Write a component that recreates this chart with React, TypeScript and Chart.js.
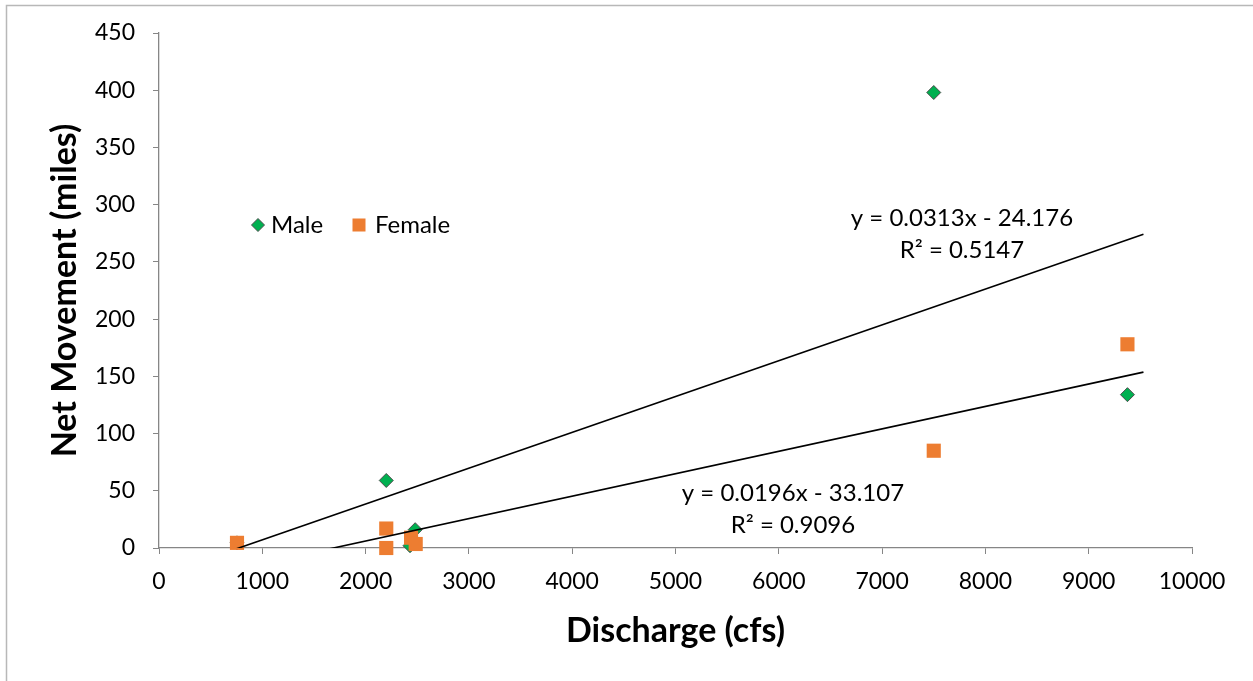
import React, { useEffect, useRef } from "react";
import { Chart, registerables } from "chart.js";

Chart.register(...registerables);

// ---- Data ----
const maleX = [755, 2200, 2430, 2480, 7500, 9375];
const maleY = [4.5, 59, 2, 16, 398, 134];
const femaleX = [755, 2200, 2200, 2440, 2485, 7500, 9375];
const femaleY = [4.5, 17, 0, 9, 3.5, 85, 178];

const maleSlope = 0.0313;
const maleIntercept = -24.176;
const maleR2 = 0.5147;
const femaleSlope = 0.0196;
const femaleIntercept = -33.107;
const femaleR2 = 0.9096;
const trendStartX = 750;
const trendEndX = 9530;

const xTicksMin = 0;
const xTicksMax = 10000;
const xStep = 1000;
const yTicksMin = 0;
const yTicksMax = 450;
const yStep = 50;

const FONT = "Lato, 'Open Sans', sans-serif";

const pts = (xs: number[], ys: number[]) => xs.map((x, i) => ({ x, y: ys[i] }));
const trend = (m: number, b: number) => [
  { x: trendStartX, y: m * trendStartX + b },
  { x: trendEndX, y: m * trendEndX + b },
];

const fmt = (m: number, b: number) =>
  `y = ${m.toFixed(4)}x ${b < 0 ? "-" : "+"} ${Math.abs(b).toFixed(3)}`;

const decorPlugin = {
  id: "decor",
  beforeDraw(chart: any) {
    const ctx = chart.ctx;
    ctx.save();
    ctx.fillStyle = "#ffffff";
    ctx.fillRect(0, 0, chart.width, chart.height);
    ctx.strokeStyle = "#b8b8b8";
    ctx.lineWidth = 1.5;
    ctx.beginPath();
    ctx.moveTo(6.5, chart.height);
    ctx.lineTo(6.5, 5.5);
    ctx.lineTo(chart.width, 5.5);
    ctx.stroke();
    ctx.restore();
  },
  afterDraw(chart: any) {
    const ctx = chart.ctx;
    const xs = chart.scales.x;
    const ys = chart.scales.y;
    ctx.save();
    ctx.fillStyle = "#000000";
    ctx.font = `24px ${FONT}`;
    ctx.textAlign = "center";
    ctx.textBaseline = "middle";
    // trendline labels
    ctx.fillText(fmt(maleSlope, maleIntercept), xs.getPixelForValue(7773), ys.getPixelForValue(288.5));
    ctx.fillText(`R² = ${maleR2.toFixed(4)}`, xs.getPixelForValue(7773), ys.getPixelForValue(260));
    ctx.fillText(fmt(femaleSlope, femaleIntercept), xs.getPixelForValue(6137), ys.getPixelForValue(47.5));
    ctx.fillText(`R² = ${femaleR2.toFixed(4)}`, xs.getPixelForValue(6137), ys.getPixelForValue(20));

    // legend
    const ca = chart.chartArea;
    const ly = ca.top + 192;
    let lx = ca.left + 99;
    ctx.beginPath();
    const r = 6.5;
    ctx.moveTo(lx - r, ly);
    ctx.lineTo(lx, ly - r);
    ctx.lineTo(lx + r, ly);
    ctx.lineTo(lx, ly + r);
    ctx.closePath();
    ctx.fillStyle = "#00B050";
    ctx.fill();
    ctx.strokeStyle = "#4d4d4d";
    ctx.lineWidth = 1;
    ctx.stroke();
    ctx.fillStyle = "#000000";
    ctx.textAlign = "left";
    ctx.fillText("Male", lx + 13, ly);
    lx = ca.left + 200;
    ctx.fillStyle = "#ED7D31";
    ctx.fillRect(lx - 6.5, ly - 6.5, 13, 13);
    ctx.fillStyle = "#000000";
    ctx.fillText("Female", lx + 16, ly);
    ctx.restore();
  },
};

export default function App() {
  const ref = useRef<HTMLCanvasElement | null>(null);
  useEffect(() => {
    if (!ref.current) return;
    const chart = new Chart(ref.current, {
      type: "scatter",
      data: {
        datasets: [
          {
            label: "Male trend",
            type: "line",
            data: trend(maleSlope, maleIntercept),
            borderColor: "#000000",
            borderWidth: 1.6,
            pointRadius: 0,
            fill: false,
          } as any,
          {
            label: "Female trend",
            type: "line",
            data: trend(femaleSlope, femaleIntercept),
            borderColor: "#000000",
            borderWidth: 1.6,
            pointRadius: 0,
            fill: false,
          } as any,
          {
            label: "Female",
            data: pts(femaleX, femaleY),
            pointStyle: "rect",
            pointRadius: 10,
            backgroundColor: "#ED7D31",
            borderColor: "#ED7D31",
            borderWidth: 0,
            clip: false,
          } as any,
          {
            label: "Male",
            data: pts(maleX, maleY),
            pointStyle: "rectRot",
            pointRadius: 7,
            backgroundColor: "#00B050",
            borderColor: "#4d4d4d",
            borderWidth: 1,
            clip: false,
          } as any,
        ],
      },
      options: {
        animation: false,
        responsive: false,
        devicePixelRatio: 1,
        layout: { padding: { top: 33, right: 61, left: 0, bottom: 0 } },
        plugins: {
          legend: { display: false },
          tooltip: { enabled: false },
        },
        scales: {
          x: {
            type: "linear",
            min: xTicksMin,
            max: xTicksMax,
            ticks: {
              stepSize: xStep,
              color: "#000000",
              font: { family: FONT, size: 23 },
              padding: 14,
              maxRotation: 0,
              callback: (v: any) => String(v),
            },
            grid: { drawOnChartArea: false, drawTicks: true, tickLength: 6, color: "#868686" },
            border: { color: "#868686", width: 1.3 },
            title: {
              display: true,
              text: "Discharge (cfs)",
              color: "#000000",
              font: { family: FONT, size: 34, weight: "bold" },
              padding: { top: 0, bottom: 30 },
            },
            afterFit: (s: any) => {
              s.height = 133;
            },
          },
          y: {
            type: "linear",
            min: yTicksMin,
            max: yTicksMax,
            ticks: {
              stepSize: yStep,
              color: "#000000",
              font: { family: FONT, size: 23 },
              padding: 18,
              callback: (v: any) => String(v),
            },
            grid: { drawOnChartArea: false, drawTicks: true, tickLength: 6, color: "#868686" },
            border: { color: "#868686", width: 1.3 },
            title: {
              display: true,
              text: "Net Movement (miles)",
              color: "#000000",
              font: { family: FONT, size: 34, weight: "bold" },
              padding: { top: 45, bottom: 0 },
            },
            afterFit: (s: any) => {
              s.width = 159;
            },
          },
        },
      } as any,
      plugins: [decorPlugin],
    });
    return () => chart.destroy();
  }, []);
  return (
    <div style={{ position: "fixed", left: 0, top: 0, width: 1253, height: 681, background: "#fff" }}>
      <canvas ref={ref} width={1253} height={681} style={{ display: "block" }} />
    </div>
  );
}
